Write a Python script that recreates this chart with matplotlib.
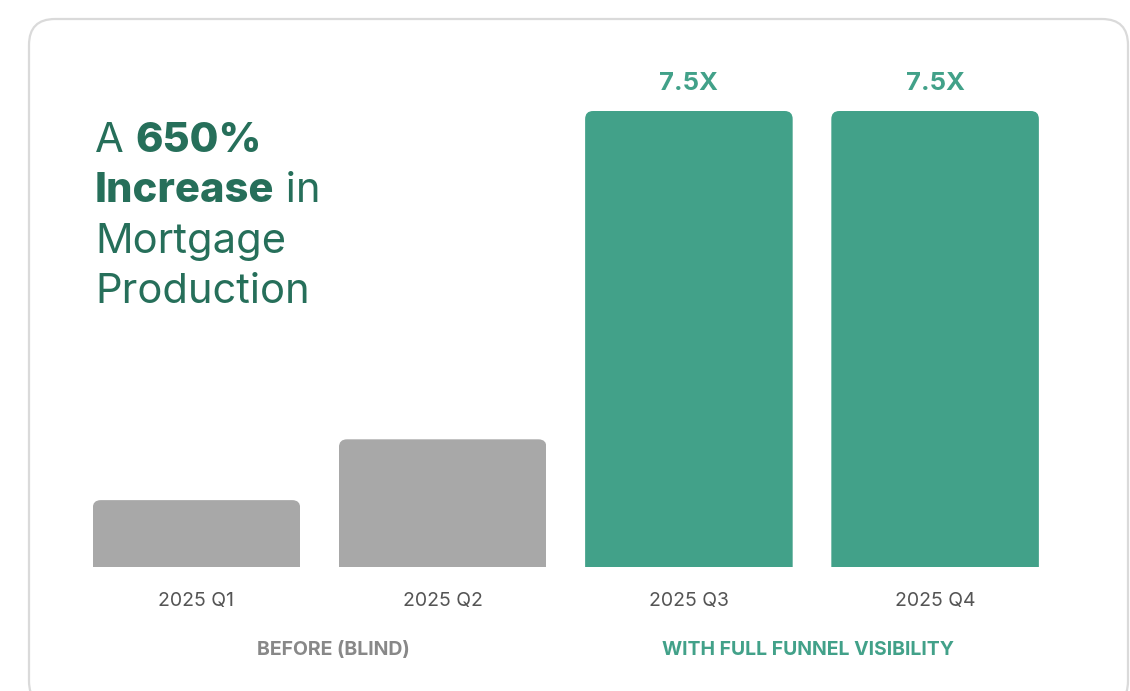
import numpy as np
import matplotlib.pyplot as plt
from matplotlib.patches import FancyBboxPatch
from matplotlib.transforms import IdentityTransform

plt.rcParams['font.family'] = ['Inter', 'DejaVu Sans']

# data
quarters = ["2025 Q1", "2025 Q2", "2025 Q3", "2025 Q4"]
production = [1.1, 2.1, 7.5, 7.5]
bar_labels = ["", "", "7.5X", "7.5X"]
phase = ["before", "before", "after", "after"]
groups = ["BEFORE (BLIND)", "WITH FULL FUNNEL VISIBILITY"]

GRAY = "#a8a8a8"
GREEN = "#42a189"
DARK = "#266f5a"

W, H = 1130, 691
fig = plt.figure(figsize=(W / 100, H / 100), dpi=100)
fig.patch.set_facecolor("white")

# card outline (pixel coords)
card = FancyBboxPatch((29, -16), 1099, H - 18 + 15, boxstyle="round,pad=0,rounding_size=26",
                      transform=IdentityTransform(), facecolor="none",
                      edgecolor="#dadada", linewidth=1.6)
fig.patches.append(card)

# axes: bar centres every 246 px starting at 196.5 px, baseline at y=567
step = 246.2
unit = 60.8  # px per value unit
x0 = 196.5
base = 567
ax = fig.add_axes([0, (H - base) / H, 1, base / H])
ax.set_xlim(-x0 / step, (W - x0) / step)
ax.set_ylim(0, base / unit)
ax.set_facecolor("none")
for s in ax.spines.values():
    s.set_visible(False)
ax.set_yticks([])

x = np.arange(len(quarters))
colors = [GRAY if p == "before" else GREEN for p in phase]
bars = ax.bar(x, production, width=0.843, color=colors, linewidth=0)

# round the top corners of each bar
r = 8  # px
aspect = step / unit
for b in bars:
    clip = FancyBboxPatch((b.get_x(), -1), b.get_width(), b.get_height() + 1,
                          boxstyle=f"round,pad=0,rounding_size={r / step}",
                          mutation_aspect=aspect, transform=ax.transData,
                          facecolor="none", edgecolor="none")
    ax.add_patch(clip)
    b.set_clip_path(clip)

for xi, v, lab in zip(x, production, bar_labels):
    if lab:
        ax.annotate(lab, (xi, v), xytext=(0, 15), textcoords="offset points",
                    ha="center", va="baseline", fontsize=18.5, fontweight="bold",
                    color=GREEN)

ax.set_xticks(x, quarters)
ax.tick_params(axis="x", length=0, pad=18, labelsize=14, labelcolor="#555555")

# group labels
fig.text(333 / W, 1 - 650 / H, groups[0], ha="center", va="center",
         fontsize=14, fontweight="bold", color="#888888")
fig.text(808 / W, 1 - 650 / H, groups[1], ha="center", va="center",
         fontsize=14, fontweight="bold", color=GREEN)

# headline with mixed weights
fs = 30
lines = [[("A ", "normal"), ("650%", "heavy")],
         [("Increase", "heavy"), (" in", "normal")],
         [("Mortgage", "normal")],
         [("Production", "normal")]]
baselines = [152, 202, 253, 303]
for parts, by in zip(lines, baselines):
    prev = fig.text(95 / W, 1 - by / H, parts[0][0], ha="left", va="baseline",
                    fontsize=fs, fontweight=parts[0][1], color=DARK)
    for txt, wt in parts[1:]:
        prev = ax.annotate(txt, xy=(1, 0), xycoords=prev, va="bottom", ha="left",
                           fontsize=fs, fontweight=wt, color=DARK,
                           annotation_clip=False)

fig.savefig("out.png", dpi=100, facecolor="white")
